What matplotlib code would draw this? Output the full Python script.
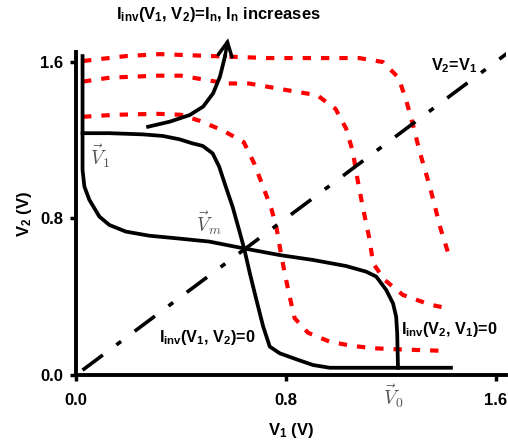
import matplotlib
matplotlib.use("Agg")
import matplotlib.pyplot as plt

plt.rcParams['font.family'] = ['Liberation Sans', 'DejaVu Sans']
plt.rcParams['font.weight'] = 'bold'
plt.rcParams['mathtext.fontset'] = 'custom'
plt.rcParams['mathtext.rm'] = 'Liberation Sans:bold'
plt.rcParams['mathtext.it'] = 'Liberation Sans:bold'
plt.rcParams['mathtext.bf'] = 'Liberation Sans:bold'

# I_inv(V1, V2) = 0
a_v1 = [0.025, 0.127, 0.254, 0.330, 0.394, 0.444, 0.483, 0.521, 0.546, 0.571, 0.597, 0.622,
        0.641, 0.663, 0.688, 0.714, 0.739, 0.777, 0.841, 0.904, 0.968, 1.43]
a_v2 = [1.236, 1.236, 1.230, 1.222, 1.205, 1.184, 1.171, 1.133, 1.065, 0.963, 0.861, 0.741,
        0.648, 0.520, 0.384, 0.247, 0.145, 0.111, 0.080, 0.051, 0.037, 0.037]

# I_inv(V2, V1) = 0
b_v1 = [0.025, 0.025, 0.032, 0.051, 0.089, 0.127, 0.190, 0.279, 0.381, 0.508, 0.637, 0.777,
        0.904, 1.030, 1.107, 1.145, 1.183, 1.209, 1.221, 1.225, 1.228]
b_v2 = [1.63, 1.048, 0.963, 0.895, 0.810, 0.767, 0.733, 0.712, 0.699, 0.682, 0.648, 0.613,
        0.588, 0.557, 0.528, 0.503, 0.435, 0.366, 0.298, 0.213, 0.037]

# I_inv(V1, V2) = I_n, three increasing I_n
r1_v1 = [0.027, 0.15, 0.31, 0.40, 0.47, 0.56, 0.64, 0.68, 0.71, 0.745, 0.765, 0.777, 0.796,
         0.815, 0.834, 0.885, 0.968, 1.057, 1.145, 1.234, 1.41]
r1_v2 = [1.32, 1.33, 1.335, 1.33, 1.30, 1.25, 1.19, 1.08, 0.975, 0.85, 0.75, 0.656, 0.520,
         0.400, 0.290, 0.216, 0.170, 0.148, 0.136, 0.131, 0.123]

r2_v1 = [0.027, 0.13, 0.31, 0.40, 0.575, 0.66, 0.83, 0.92, 0.99, 1.03, 1.055, 1.075, 1.095,
         1.12, 1.133, 1.177, 1.247, 1.35, 1.42]
r2_v2 = [1.50, 1.52, 1.53, 1.53, 1.49, 1.49, 1.45, 1.43, 1.36, 1.26, 1.145, 0.99, 0.85,
         0.69, 0.571, 0.486, 0.409, 0.36, 0.34]

r3_v1 = [0.027, 0.19, 0.32, 0.73, 1.08, 1.17, 1.23, 1.26, 1.285, 1.31, 1.35, 1.39, 1.425]
r3_v2 = [1.605, 1.63, 1.64, 1.62, 1.62, 1.60, 1.52, 1.40, 1.28, 1.145, 0.96, 0.75, 0.60]

# V2 = V1 diagonal
d_v = [0.025, 1.66]

# arrow path
arr_v1 = [0.275, 0.358, 0.434, 0.485, 0.523, 0.549, 0.568, 0.580]
arr_v2 = [1.269, 1.295, 1.329, 1.372, 1.440, 1.525, 1.627, 1.721]

ticks = [0.0, 0.8, 1.6]
tick_labels = ['0.0', '0.8', '1.6']

fig = plt.figure(figsize=(5.08, 4.44), dpi=100)
ax = fig.add_axes([0.1496, 0.1554, 0.8465, 0.7275])
ax.set_xlim(0, 1.64)
ax.set_ylim(0, 1.651)

red_ls = (0, (2.0, 2.4))
for xs, ys in [(r1_v1, r1_v2), (r2_v1, r2_v2), (r3_v1, r3_v2)]:
    ax.plot(xs, ys, color='#ff0000', lw=3.0, linestyle=red_ls)

ax.plot(d_v, d_v, color='black', lw=2.6, linestyle=(0, (7.0, 4.7, 1.6, 4.7)))

ax.plot(a_v1, a_v2, color='black', lw=2.7, solid_joinstyle='round')
ax.plot(b_v1, b_v2, color='black', lw=2.7, solid_joinstyle='round')

ax.plot(arr_v1[:-1], arr_v2[:-1], color='black', lw=2.7, clip_on=False, solid_joinstyle='round')
ax.annotate('', xy=(arr_v1[-1], arr_v2[-1]), xytext=(arr_v1[-2], arr_v2[-2]),
            arrowprops=dict(arrowstyle='->, head_length=0.5, head_width=0.25',
                            color='black', lw=2.5, mutation_scale=20,
                            shrinkA=0, shrinkB=0, joinstyle='miter'),
            annotation_clip=False)

for side in ['top', 'right']:
    ax.spines[side].set_visible(False)
for side in ['left', 'bottom']:
    ax.spines[side].set_linewidth(2.8)

ax.set_xticks(ticks)
ax.set_xticklabels(tick_labels)
ax.set_yticks(ticks)
ax.set_yticklabels(tick_labels)
ax.tick_params(direction='out', length=4, width=2.5, labelsize=12)
ax.tick_params(axis='x', pad=9)
ax.tick_params(axis='y', pad=5)
for lab in ax.get_xticklabels() + ax.get_yticklabels():
    lab.set_fontweight('bold')

ax.set_xlabel('V$_1$ (V)', fontsize=12, fontweight='bold', labelpad=9.5)
ax.set_ylabel('V$_2$ (V)', fontsize=12, fontweight='bold', labelpad=4.5)

fig.text(0.431, 0.968, 'I$_{inv}$(V$_1$, V$_2$)=I$_n$, I$_n$ increases',
         ha='center', va='center', fontsize=12, fontweight='bold')
ax.text(1.444, 1.58, 'V$_2$=V$_1$', ha='center', va='center', fontsize=11.7, fontweight='bold')
ax.text(0.50, 0.19, 'I$_{inv}$(V$_1$, V$_2$)=0', ha='center', va='center', fontsize=11.7, fontweight='bold')
ax.text(1.425, 0.235, 'I$_{inv}$(V$_2$, V$_1$)=0', ha='center', va='center', fontsize=11.7,
        fontweight='bold', clip_on=False)

gray = '#555555'
ax.text(0.055, 1.12, r'$\vec{V}_1$', ha='left', va='center', fontsize=14, color=gray, math_fontfamily='cm')
ax.text(0.458, 0.775, r'$\vec{V}_m$', ha='left', va='center', fontsize=14, color=gray, math_fontfamily='cm')
ax.text(1.172, -0.107, r'$\vec{V}_0$', ha='left', va='center', fontsize=14, color=gray,
        math_fontfamily='cm', clip_on=False)

fig.savefig('out.png', dpi=100)
